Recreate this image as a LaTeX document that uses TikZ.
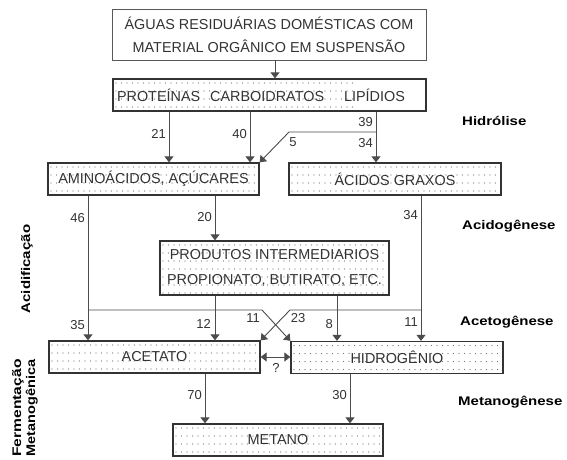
\documentclass[tikz,border=0pt]{standalone}
\usepackage{fontspec}
\setmainfont{Liberation Sans}
\usepackage{graphicx}
\usetikzlibrary{arrows.meta,calc}
\begin{document}
\begin{tikzpicture}[x=1pt,y=-1pt,
  dotfill/.style={path picture={
    \foreach \yy in {4,12,...,60} {\foreach \xx in {3,8.5,...,240} {
      \fill[black!55] ($(path picture bounding box.north west)+(\xx,\yy)$) circle (0.65);}}}},
  box/.style={draw=black!80, line width=1.3pt, fill=white, dotfill, inner sep=0pt, font=\fontsize{14.4}{17}\selectfont, text=black!80},
  topbox/.style={draw=black!65, line width=1pt, fill=white, inner sep=0pt, align=center, font=\fontsize{14.4}{23}\selectfont, text=black!80},
  num/.style={font=\fontsize{13}{15}\selectfont, text=black!80, inner sep=0pt},
  side/.style={font=\fontsize{12.5}{14}\selectfont\bfseries, inner sep=0pt},
  conn/.style={draw=black!70, line width=0.9pt},
  arr/.style={conn, -{Triangle[width=9pt,length=6pt]}},
  darr/.style={conn, {Triangle[width=9pt,length=6pt]}-{Triangle[width=9pt,length=6pt]}}]
\fill[white] (0,0) rectangle (567,459);
\useasboundingbox (0,0) rectangle (567,459);

% boxes
\node[topbox, minimum width=314, minimum height=51] (top) at (269,34.5) {ÁGUAS RESIDUÁRIAS DOMÉSTICAS COM\\MATERIAL ORGÂNICO EM SUSPENSÃO};
\node[box, minimum width=313, minimum height=32, inner xsep=4pt, text width=305pt, align=left] (prot) at (269.5,95) {PROTEÍNAS\hspace{10pt}CARBOIDRATOS\hspace{20pt}LIPÍDIOS};
\node[box, minimum width=211, minimum height=32] (amino) at (153.5,179) {AMINOÁCIDOS, AÇÚCARES};
\node[box, minimum width=212, minimum height=32] (acidos) at (395,179) {ÁCIDOS GRAXOS};
\node[box, minimum width=229, minimum height=54, align=center, font=\fontsize{14.4}{25}\selectfont] (prod) at (274.5,268) {PRODUTOS INTERMEDIARIOS\\PROPIONATO, BUTIRATO, ETC.};
\node[box, minimum width=211, minimum height=32] (acet) at (154.5,357) {ACETATO};
\node[box, minimum width=212, minimum height=32] (hidro) at (397,357.5) {HIDROGÊNIO};
\node[box, minimum width=210, minimum height=32] (metano) at (278,440) {METANO};

% connectors
\draw[arr] (top.south -| 275,0) -- (prot.north -| 275,0);
\draw[arr] (prot.south -| 169,0) -- (amino.north -| 169,0);
\draw[arr] (prot.south -| 250,0) -- (amino.north -| 250,0);
\draw[arr] (prot.south -| 376,0) -- (acidos.north -| 376,0);
\coordinate (b5) at (376,132);
\coordinate (b5k) at (289,132);
\draw[arr] (b5) -- (b5k) -- (amino.north east);
\draw[arr] (amino.south -| 88,0) -- (acet.north -| 88,0);
\draw[arr] (amino.south -| 215,0) -- (prod.north -| 215,0);
\draw[arr] (prod.south -| 215,0) -- (acet.north -| 215,0);
\draw[arr] (prod.south -| 337,0) -- (hidro.north -| 337,0);
\draw[arr] (acidos.south -| 421,0) -- (hidro.north -| 421,0);
\coordinate (hl1) at (88,310);
\coordinate (hk1) at (262,310);
\draw[arr] (hl1) -- (hk1) -- (hidro.north west);
\coordinate (hr1) at (421,310);
\coordinate (hk2) at (290,310);
\draw[arr] (hr1) -- (hk2) -- (acet.north east);
\draw[darr] (acet.east) -- (acet.east -| hidro.west);
\draw[arr] (acet.south -| 205,0) -- (metano.north -| 205,0);
\draw[arr] (hidro.south -| 350,0) -- (metano.north -| 350,0);

% numbers
\node[num, anchor=east] (l21) at (166,134) {21};
\node[num, anchor=east] (l40) at (247,134) {40};
\node[num, anchor=east] (l39) at (373,122) {39};
\node[num, anchor=east] (l34a) at (373,143) {34};
\node[num] (l5) at (293,142) {5};
\node[num, anchor=east] (l46) at (85,218) {46};
\node[num, anchor=east] (l20) at (212,217) {20};
\node[num, anchor=east] (l34b) at (418,215) {34};
\node[num, anchor=east] (l35) at (85,325) {35};
\node[num, anchor=east] (l12) at (211,324) {12};
\node[num] (l11a) at (253,318) {11};
\node[num] (l23) at (298,318) {23};
\node[num, anchor=east] (l8) at (333,324) {8};
\node[num, anchor=east] (l11b) at (418,322) {11};
\node[num, anchor=east] (l70) at (202,395) {70};
\node[num, anchor=east] (l30) at (347,395) {30};
\node[num] (lq) at (276,368) {?};

% phase labels
\node[side, anchor=west] (hid) at (462,121) {\scalebox{1.2}[1]{Hidrólise}};
\node[side, anchor=west] (acg) at (462,226) {\scalebox{1.2}[1]{Acidogênese}};
\node[side, anchor=west] (act) at (460,322) {\scalebox{1.2}[1]{Acetogênese}};
\node[side, anchor=west] (met) at (458,402) {\scalebox{1.2}[1]{Metanogênese}};
\node[side, rotate=90] (acid) at (27,269) {\scalebox{1.2}[1]{Acidificação}};
\node[side, rotate=90, align=center] (ferm) at (25,408) {\scalebox{1.25}[1]{Fermentação}\\\scalebox{1.16}[1]{Metanogênica}};
\end{tikzpicture}
\end{document}
